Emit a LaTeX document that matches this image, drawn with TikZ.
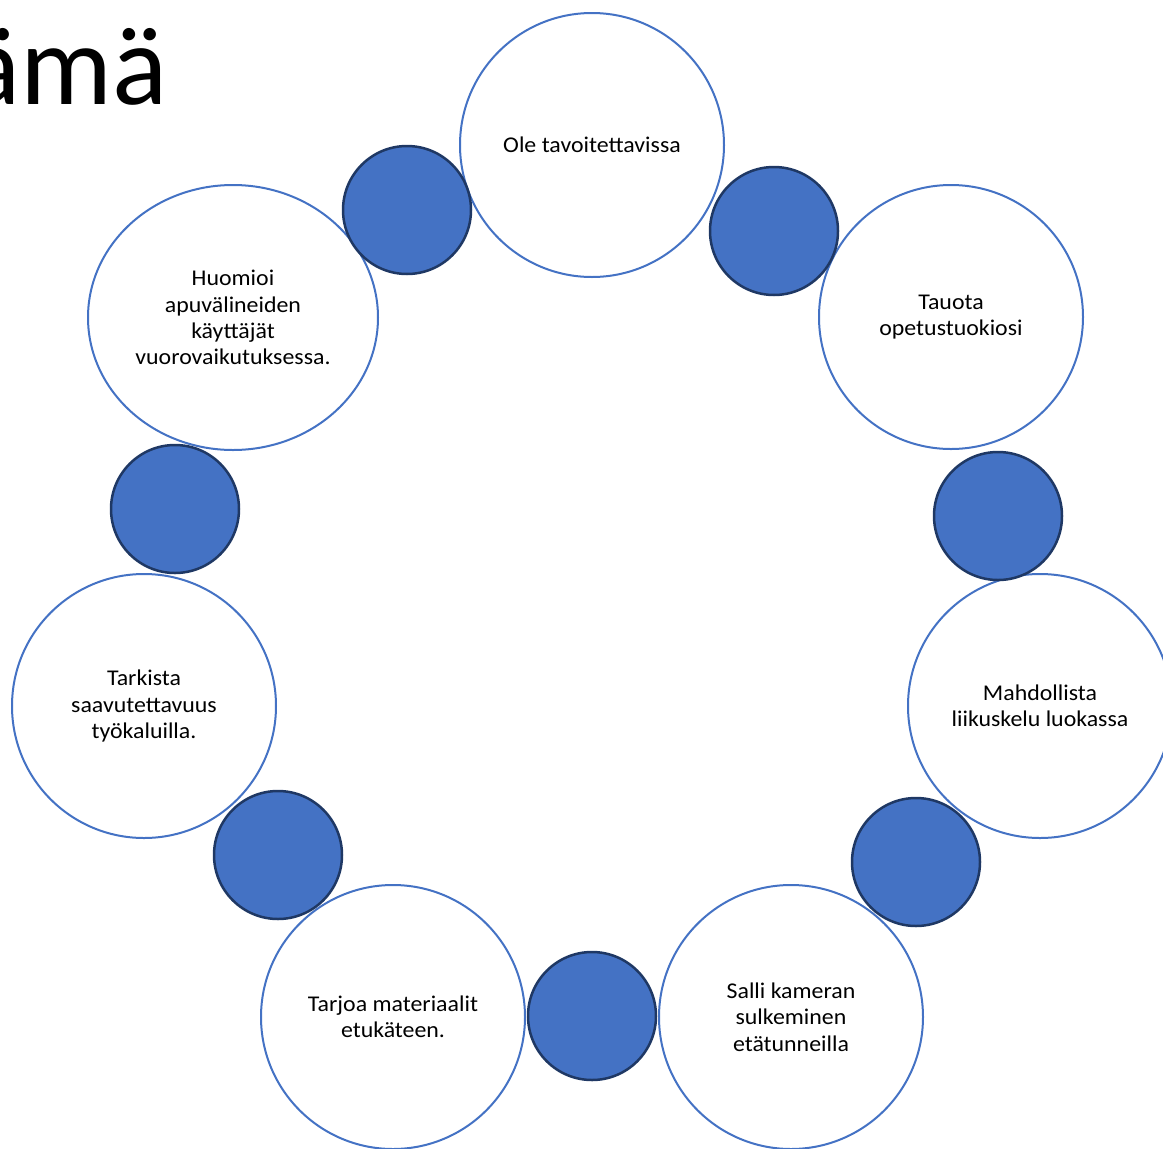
\documentclass[tikz,border=0pt]{standalone}
\usepackage{fontspec}
\setmainfont{Carlito}
\newfontfamily\tekstifont[FakeStretch=1.06]{Carlito}
\usepackage{xcolor}
\usepackage{tikz}
\usetikzlibrary{positioning, calc, shapes.geometric}

\definecolor{aksentti}{HTML}{4472C4}
\definecolor{reuna}{HTML}{1F3864}

\begin{document}
\begin{tikzpicture}[x=1pt, y=-1pt]
			\tikzstyle{iso}=[circle, draw=aksentti, line width=2pt, fill=white, minimum size=264pt, inner sep=0pt, align=center, text=black, font=\tekstifont\fontsize{22.5}{26.3}\selectfont]
			\tikzstyle{isoleveä}=[iso, ellipse, minimum width=290pt, minimum height=265pt]
			\tikzstyle{pallo}=[circle, draw=reuna, line width=2.5pt, fill=aksentti, minimum size=128pt, inner sep=0pt]
			\tikzstyle{otsikko}=[anchor=base east, inner sep=0pt, text=black, font=\fontsize{115}{138}\selectfont]
			
			\useasboundingbox (0,0) rectangle (1163,1149);
			
			\node (ots) at (168,104) [otsikko] {ämä};
			
			\node (k1) at (592,145) [iso] {Ole tavoitettavissa};
			\node (k2) at (951,317) [iso] {Tauota\\opetustuokiosi};
			\node (k3) at (1040,706) [iso] {Mahdollista\\liikuskelu luokassa};
			\node (k4) at (791,1017) [iso] {Salli kameran\\sulkeminen\\etätunneilla};
			\node (k5) at (393,1017) [iso] {Tarjoa materiaalit\\etukäteen.};
			\node (k6) at (144,706) [iso] {Tarkista\\saavutettavuus\\työkaluilla.};
			\node (k7) at (233,317.5) [isoleveä] {Huomioi\\apuvälineiden\\käyttäjät\\vuorovaikutuksessa.};
			
			%% pallot kehien valissa
			\node (p1) at (407,210) [pallo] {};
			\node (p2) at (774,231) [pallo] {};
			\node (p3) at (998,516) [pallo] {};
			\node (p4) at (916,862) [pallo] {};
			\node (p5) at (592,1016) [pallo] {};
			\node (p6) at (278,855) [pallo] {};
			\node (p7) at (175,509) [pallo] {};
\end{tikzpicture}
\end{document}
